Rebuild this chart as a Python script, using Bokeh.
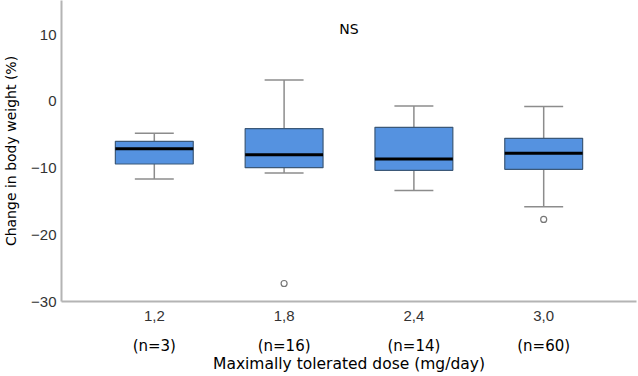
from bokeh.plotting import figure
from bokeh.models import FactorRange, Range1d, FixedTicker, CategoricalAxis, Label
from bokeh.embed import file_html
from bokeh.resources import INLINE

# data
doses = ["1,2", "1,8", "2,4", "3,0"]
n_labels = ["(n=3)", "(n=16)", "(n=14)", "(n=60)"]
upper_whisker = [-4.8, 3.2, -0.7, -0.8]
q3 = [-6.0, -4.1, -3.9, -5.55]
median = [-7.1, -8.0, -8.65, -7.8]
q1 = [-9.4, -9.95, -10.35, -10.2]
lower_whisker = [-11.65, -10.75, -13.35, -15.8]
outlier_dose = ["1,8", "3,0"]
outlier_value = [-27.3, -17.7]
y_ticks = [-30, -20, -10, 0, 10]

BOX_W = 0.6
CAP_W = 0.3
PAD = 0.1075

p = figure(
    width=638, height=376,
    x_range=FactorRange(factors=doses, range_padding=PAD),
    y_range=Range1d(-30, 15.1),
    output_backend="svg", toolbar_location=None,
    min_border_left=60, min_border_right=2, min_border_top=0, min_border_bottom=75,
)
p.extra_x_ranges = {"n": FactorRange(factors=n_labels, range_padding=PAD)}
p.outline_line_color = None
p.xgrid.visible = False
p.ygrid.visible = False
p.background_fill_color = "white"
p.border_fill_color = "white"

axis_col = "#b4b4b4"
# y axis
ya = p.yaxis[0]
ya.ticker = FixedTicker(ticks=y_ticks)
ya.axis_line_color = axis_col
ya.axis_line_width = 2
ya.major_tick_line_color = None
ya.minor_tick_line_color = None
ya.major_tick_out = 0
ya.major_tick_in = 0
ya.major_label_standoff = 5
ya.major_label_text_font = "Liberation Sans"
ya.major_label_text_font_size = "15px"
ya.major_label_text_color = "#333333"
ya.axis_label = "Change in body weight (%)"
ya.axis_label_text_font = "DejaVu Sans"
ya.axis_label_text_font_size = "14px"
ya.axis_label_text_font_style = "normal"
ya.axis_label_text_color = "#000000"
ya.axis_label_standoff = 9

# x axis with dose labels
xa = p.xaxis[0]
xa.axis_line_color = axis_col
xa.axis_line_width = 2
xa.major_tick_line_color = None
xa.major_tick_out = 0
xa.major_tick_in = 0
xa.major_label_standoff = 9
xa.major_label_text_font = "Liberation Sans"
xa.major_label_text_font_size = "15px"
xa.major_label_text_color = "#333333"

# second x axis with n labels and title
xa2 = CategoricalAxis(x_range_name="n", axis_label="Maximally tolerated dose (mg/day)")
xa2.axis_line_color = None
xa2.major_tick_line_color = None
xa2.major_tick_out = 0
xa2.major_tick_in = 0
xa2.major_label_standoff = 13
xa2.major_label_text_font = "DejaVu Sans"
xa2.major_label_text_font_size = "15px"
xa2.major_label_text_color = "#000000"
xa2.axis_label_text_font = "DejaVu Sans"
xa2.axis_label_text_font_size = "15.5px"
xa2.axis_label_text_font_style = "normal"
xa2.axis_label_text_color = "#000000"
xa2.axis_label_standoff = -3
p.add_layout(xa2, "below")

wh_col = "#8c8c8c"
# whiskers
p.segment(x0=doses, y0=q3, x1=doses, y1=upper_whisker, line_color=wh_col, line_width=1.5)
p.segment(x0=doses, y0=q1, x1=doses, y1=lower_whisker, line_color=wh_col, line_width=1.5)
left_cap = [(d, -CAP_W / 2) for d in doses]
right_cap = [(d, CAP_W / 2) for d in doses]
p.segment(x0=left_cap, y0=upper_whisker, x1=right_cap, y1=upper_whisker, line_color=wh_col, line_width=1.5)
p.segment(x0=left_cap, y0=lower_whisker, x1=right_cap, y1=lower_whisker, line_color=wh_col, line_width=1.5)

# boxes
p.vbar(x=doses, top=q3, bottom=q1, width=BOX_W, fill_color="#5592e0",
       line_color="#3b5878", line_width=1.2)
left_box = [(d, -BOX_W / 2) for d in doses]
right_box = [(d, BOX_W / 2) for d in doses]
p.segment(x0=left_box, y0=median, x1=right_box, y1=median, line_color="#000000", line_width=3)

# outliers
p.scatter(x=outlier_dose, y=outlier_value, marker="circle", size=6,
          fill_color="white", line_color="#777777", line_width=1.2)

p.add_layout(Label(x=2.0, y=10.9, text="NS", text_align="center", text_baseline="middle",
                   text_font="DejaVu Sans", text_font_size="14px", text_color="#000000"))

open("out.html", "w").write(file_html(p, INLINE))
